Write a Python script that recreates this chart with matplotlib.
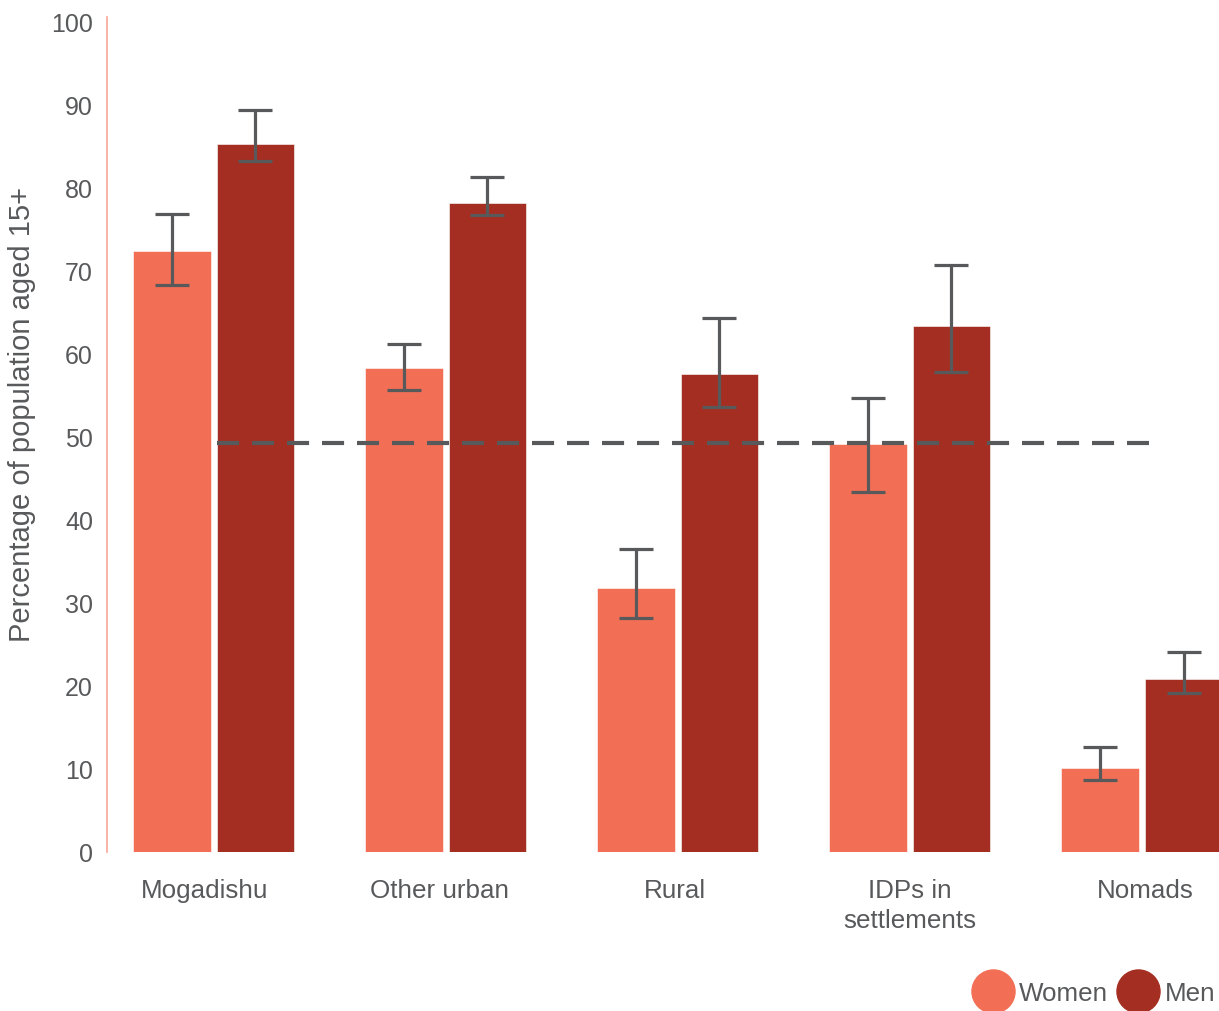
import matplotlib.pyplot as plt
from matplotlib.lines import Line2D
import numpy as np

# data
categories = ["Mogadishu", "Other urban", "Rural", "IDPs in\nsettlements", "Nomads"]
women = [72.3, 58.2, 31.8, 49.1, 10.1]
women_low = [68.2, 55.6, 28.2, 43.3, 8.7]
women_high = [76.8, 61.1, 36.5, 54.6, 12.6]
men = [85.2, 78.1, 57.5, 63.3, 20.8]
men_low = [83.2, 76.7, 53.6, 57.8, 19.1]
men_high = [89.3, 81.3, 64.3, 70.6, 24.1]
national_avg = 49.2
legend_labels = ["Women", "Men"]

WOMEN_C = "#F26F55"
MEN_C = "#A52E22"
GREY = "#58595B"

plt.rcParams['font.family'] = ['Liberation Sans', 'DejaVu Sans']

W, H = 1219, 1012
fig = plt.figure(figsize=(W/100, H/100), dpi=100)
ax = fig.add_axes([107/W, 1 - 853/H, 1 - 107/W, (853 - 18)/H])

x = np.arange(len(categories))
bw = 0.336
gap = 0.022
xw = x - (bw + gap)/2
xm = x + (bw + gap)/2

w = np.array(women)
m = np.array(men)
w_err = [w - np.array(women_low), np.array(women_high) - w]
m_err = [m - np.array(men_low), np.array(men_high) - m]

err_kw = dict(ecolor=GREY, elinewidth=2.3, capsize=12.5, capthick=2.3)
ax.bar(xw, w, bw, color=WOMEN_C, edgecolor="white", linewidth=0.4,
       yerr=w_err, error_kw=err_kw, zorder=2)
ax.bar(xm, m, bw, color=MEN_C, edgecolor="white", linewidth=0.4,
       yerr=m_err, error_kw=err_kw, zorder=2)

# dashed reference line
ax.plot([0.013, 4.03], [national_avg, national_avg], color=GREY, lw=3,
        linestyle=(0, (5.3, 3.1)), zorder=4)

ax.set_xlim(-0.461, 4.332)
ax.set_ylim(0, 100.5)
ax.set_yticks(np.arange(0, 101, 10))
# labels sit slightly left of the group centres in the original
ax.set_xticks(x * 1.013 - 0.039)
ax.set_xticklabels(categories, linespacing=1.3)
ax.tick_params(axis='both', length=0, colors=GREY)
ax.tick_params(axis='y', pad=10, labelsize=18)
ax.tick_params(axis='x', pad=19, labelsize=18.7)

for s in ['top', 'right', 'bottom']:
    ax.spines[s].set_visible(False)
ax.spines['left'].set_color("#F6A596")
ax.spines['left'].set_linewidth(1.2)

fig.text(22/W, 1 - 415/H, "Percentage of population aged 15+",
         rotation=90, ha='center', va='center', fontsize=21, color=GREY)

# legend drawn by hand: big circles with labels
for cx, tx, col, lab in [(993, 1019, WOMEN_C, legend_labels[0]),
                         (1137.5, 1165, MEN_C, legend_labels[1])]:
    fig.add_artist(Line2D([cx/W], [1 - 992/H], marker='o', markersize=31,
                          markerfacecolor=col, markeredgecolor=col,
                          linestyle='none', transform=fig.transFigure))
    fig.text(tx/W, 1 - 992/H, lab, ha='left', va='center_baseline',
             fontsize=18.7, color=GREY)

fig.savefig("out.png", dpi=100)
